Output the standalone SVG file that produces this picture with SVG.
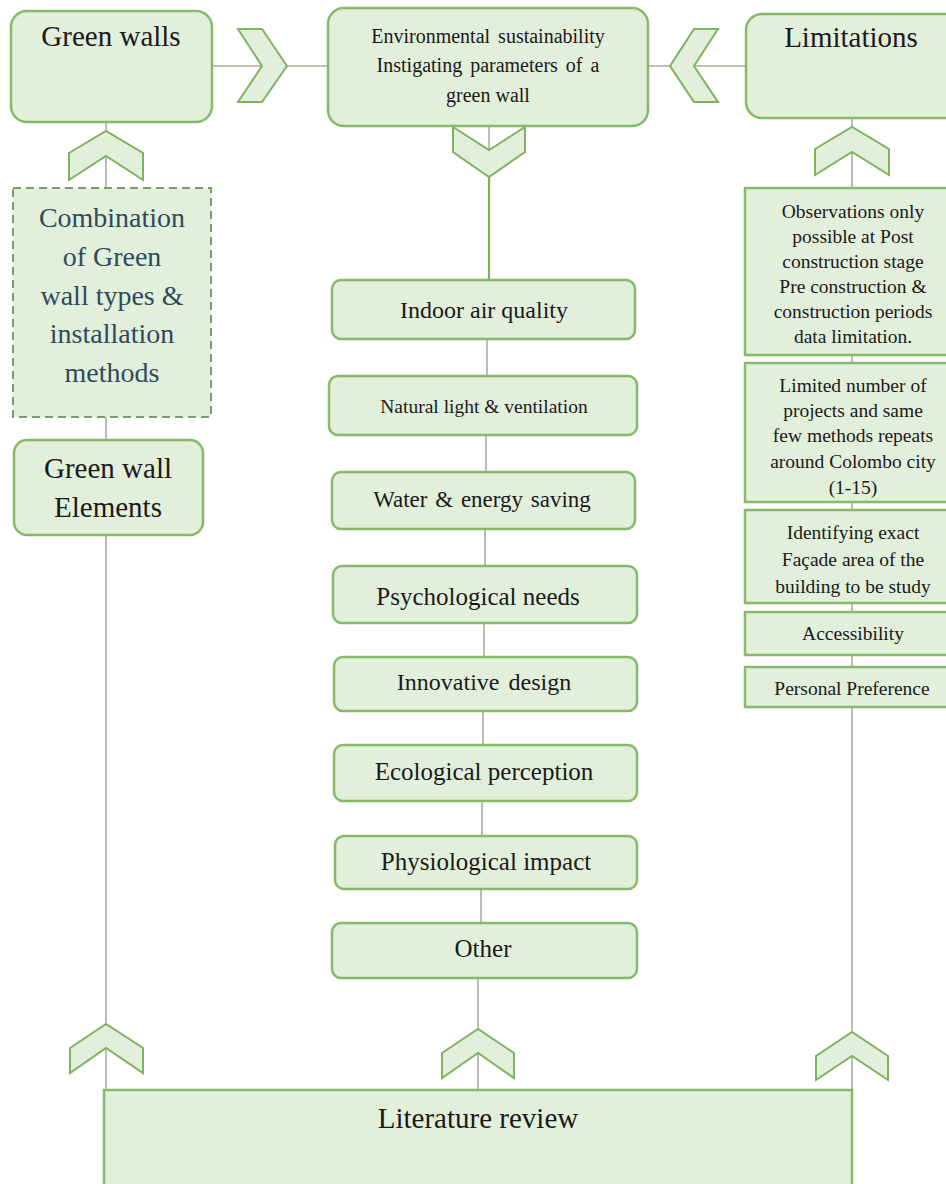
<svg xmlns="http://www.w3.org/2000/svg" width="946" height="1184" viewBox="0 0 946 1184">
<defs>
<style>
.box{fill:#e2efda;stroke:#86b96a;stroke-width:2.5}
.dash{fill:#e2efda;stroke:#7f9a6d;stroke-width:2;stroke-dasharray:8 5}
.chev{fill:#e2efda;stroke:#7fb35f;stroke-width:2;stroke-linejoin:miter}
.ln{stroke:#a9ae9d;stroke-width:1.6;fill:none}
.gln{stroke:#7cb05c;stroke-width:2.2;fill:none}
.t{font-family:"Liberation Serif","Times New Roman",serif;fill:#1a1a1a;text-anchor:middle}
.tb{font-family:"Liberation Serif","Times New Roman",serif;fill:#2f4a5e;text-anchor:middle}
</style>
</defs>
<rect width="946" height="1184" fill="#ffffff"/>
<g id="connectors">
<line class="ln" x1="212" y1="66" x2="328" y2="66"/>
<line class="ln" x1="648" y1="66" x2="746" y2="66"/>
<line class="ln" x1="106" y1="122" x2="106" y2="188"/>
<line class="ln" x1="852" y1="118" x2="852" y2="188"/>
<line class="ln" x1="489" y1="126" x2="489" y2="150"/>
<line class="gln" x1="489" y1="177" x2="489" y2="280"/>
<line class="ln" x1="106" y1="417" x2="106" y2="440"/>
<line class="ln" x1="106" y1="535" x2="106" y2="1090"/>
<line class="ln" x1="487" y1="339" x2="487" y2="376"/>
<line class="ln" x1="486" y1="435" x2="486" y2="472"/>
<line class="ln" x1="485" y1="529" x2="485" y2="566"/>
<line class="ln" x1="484" y1="623" x2="484" y2="657"/>
<line class="ln" x1="483" y1="711" x2="483" y2="745"/>
<line class="ln" x1="482" y1="801" x2="482" y2="836"/>
<line class="ln" x1="481" y1="889" x2="481" y2="923"/>
<line class="ln" x1="478" y1="978" x2="478" y2="1090"/>
<line class="ln" x1="852" y1="355" x2="852" y2="363"/>
<line class="ln" x1="852" y1="502" x2="852" y2="510"/>
<line class="ln" x1="852" y1="603" x2="852" y2="612"/>
<line class="ln" x1="852" y1="655" x2="852" y2="667"/>
<line class="ln" x1="852" y1="707" x2="852" y2="1090"/>
<polygon class="chev" points="238,29 262,29 287,66 262,102 238,102 262,66"/>
<polygon class="chev" points="670,66 694,29 718,29 694,66 718,102 694,102"/>
<polygon class="chev" points="453,127 489,150 525,127 525,152 489,177 453,152"/>
<polygon class="chev" points="69,153 106,131 143,153 143,180 106,156 69,180"/>
<polygon class="chev" points="815,149 852,127 889,149 889,175 852,152 815,175"/>
<polygon class="chev" points="70,1048 106,1024 143,1048 143,1073 106,1048 70,1073"/>
<polygon class="chev" points="442,1053 478,1029 514,1053 514,1078 478,1053 442,1078"/>
<polygon class="chev" points="816,1056 852,1032 888,1056 888,1080 852,1056 816,1080"/>
</g>
<g id="green-walls">
<rect class="box" x="11" y="11" width="201" height="111" rx="16"/>
<text class="t" x="111" y="46" font-size="29">Green walls</text>
</g>
<g id="environmental">
<rect class="box" x="328" y="8" width="320" height="118" rx="16"/>
<text class="t" x="488" y="43" font-size="20" word-spacing="3">Environmental sustainability</text>
<text class="t" x="488" y="72" font-size="20" word-spacing="3">Instigating parameters of a</text>
<text class="t" x="488" y="102" font-size="20">green wall</text>
</g>
<g id="limitations">
<rect class="box" x="746" y="14" width="214" height="104" rx="16"/>
<text class="t" x="851" y="47" font-size="29">Limitations</text>
</g>
<g id="combination">
<rect class="dash" x="13" y="188" width="198" height="229"/>
<text class="tb" x="112" y="227" font-size="28">Combination</text>
<text class="tb" x="112" y="266" font-size="28">of Green</text>
<text class="tb" x="112" y="305" font-size="28">wall types &amp;</text>
<text class="tb" x="112" y="343" font-size="28">installation</text>
<text class="tb" x="112" y="382" font-size="28">methods</text>
</g>
<g id="elements">
<rect class="box" x="14" y="440" width="189" height="95" rx="13"/>
<text class="t" x="108" y="478" font-size="29">Green wall</text>
<text class="t" x="108" y="517" font-size="29">Elements</text>
</g>
<g id="indoor">
<rect class="box" x="332" y="280" width="303" height="59" rx="9"/>
<text class="t" x="484" y="318" font-size="24">Indoor air quality</text>
</g>
<g id="natural">
<rect class="box" x="329" y="376" width="308" height="59" rx="9"/>
<text class="t" x="484" y="413" font-size="19.5">Natural light &amp; ventilation</text>
</g>
<g id="water">
<rect class="box" x="332" y="472" width="303" height="57" rx="9"/>
<text class="t" x="482" y="507" font-size="23" word-spacing="2">Water &amp; energy saving</text>
</g>
<g id="psychological">
<rect class="box" x="333" y="566" width="304" height="57" rx="9"/>
<text class="t" x="478" y="605" font-size="25">Psychological needs</text>
</g>
<g id="innovative">
<rect class="box" x="334" y="657" width="303" height="54" rx="9"/>
<text class="t" x="484" y="690" font-size="24" word-spacing="3">Innovative design</text>
</g>
<g id="ecological">
<rect class="box" x="334" y="745" width="303" height="56" rx="9"/>
<text class="t" x="484" y="780" font-size="25">Ecological perception</text>
</g>
<g id="physiological">
<rect class="box" x="335" y="836" width="302" height="53" rx="9"/>
<text class="t" x="486" y="870" font-size="25">Physiological impact</text>
</g>
<g id="other">
<rect class="box" x="332" y="923" width="305" height="55" rx="9"/>
<text class="t" x="483" y="957" font-size="25">Other</text>
</g>
<g id="observations">
<rect class="box" x="745" y="188" width="215" height="167"/>
<text class="t" x="853" y="218" font-size="19.5">Observations only</text>
<text class="t" x="853" y="243" font-size="19.5">possible at Post</text>
<text class="t" x="853" y="268" font-size="19.5">construction stage</text>
<text class="t" x="853" y="293" font-size="19.5">Pre construction &amp;</text>
<text class="t" x="853" y="318" font-size="19.5">construction periods</text>
<text class="t" x="853" y="343" font-size="19.5">data limitation.</text>
</g>
<g id="limited">
<rect class="box" x="745" y="363" width="215" height="139"/>
<text class="t" x="853" y="392" font-size="19.5">Limited number of</text>
<text class="t" x="853" y="417" font-size="19.5">projects and same</text>
<text class="t" x="853" y="442" font-size="19.5">few methods repeats</text>
<text class="t" x="853" y="468" font-size="19.5">around Colombo city</text>
<text class="t" x="853" y="494" font-size="19.5">(1-15)</text>
</g>
<g id="identifying">
<rect class="box" x="745" y="510" width="215" height="93"/>
<text class="t" x="853" y="539" font-size="19.5">Identifying exact</text>
<text class="t" x="853" y="566" font-size="19.5">Façade area of the</text>
<text class="t" x="853" y="593" font-size="19.5">building to be study</text>
</g>
<g id="accessibility">
<rect class="box" x="745" y="612" width="215" height="43"/>
<text class="t" x="853" y="640" font-size="19.5">Accessibility</text>
</g>
<g id="personal">
<rect class="box" x="745" y="667" width="215" height="40"/>
<text class="t" x="852" y="695" font-size="19.5">Personal Preference</text>
</g>
<g id="literature">
<rect class="box" x="104" y="1090" width="748" height="110"/>
<text class="t" x="478" y="1128" font-size="29">Literature review</text>
</g>
</svg>
